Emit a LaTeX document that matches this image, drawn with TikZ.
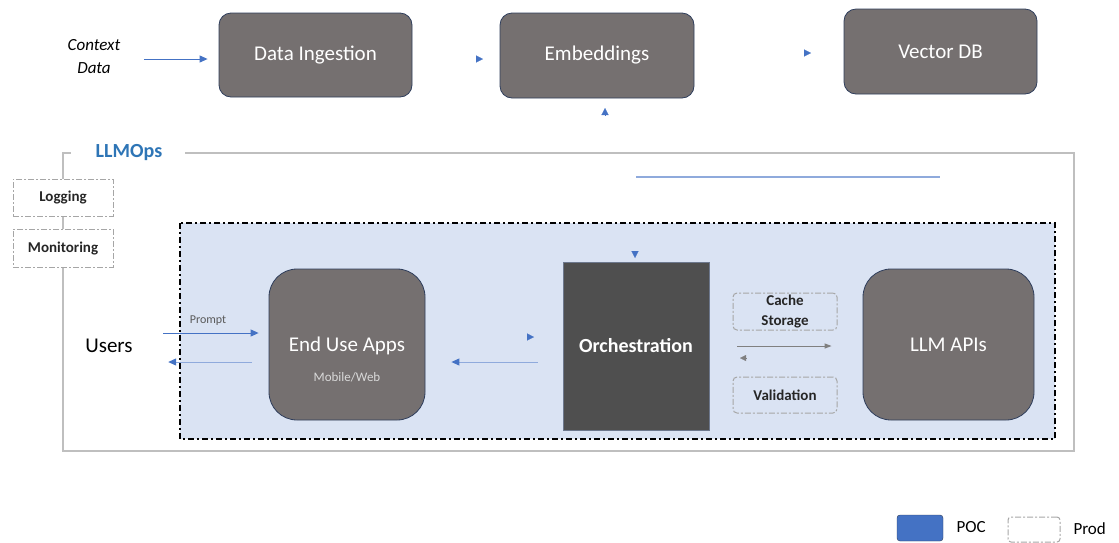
\documentclass[tikz,border=0pt]{standalone}
\usepackage{fontspec}
\setmainfont{Carlito}
\usetikzlibrary{arrows.meta}
\definecolor{boxgray}{RGB}{117,112,112}
\definecolor{orchgray}{RGB}{79,79,79}
\definecolor{boxedge}{RGB}{47,62,92}
\definecolor{myblue}{RGB}{68,114,196}
\definecolor{lineblue}{RGB}{143,170,220}
\definecolor{paleblue}{RGB}{218,227,243}
\definecolor{framegray}{RGB}{191,191,191}
\definecolor{dashgray}{RGB}{166,166,166}
\definecolor{opsblue}{RGB}{46,117,182}

\begin{document}
\begin{tikzpicture}[x=1pt, y=-1pt,
    stage/.style={draw=boxedge, line width=0.8pt, fill=boxgray, rounded corners=12pt,
        inner sep=0pt, text=white, font=\fontsize{21}{25}\selectfont},
    service/.style={stage, rounded corners=28pt},
    prodbox/.style={draw=dashgray, line width=1pt, dash pattern=on 6pt off 2pt on 2pt off 2pt,
        inner sep=0pt, align=center, text=black!85, font=\bfseries\fontsize{15}{21}\selectfont},
    flow/.style={draw=myblue, line width=1pt, -{Triangle[length=8pt, width=7pt, color=myblue]}},
    backflow/.style={flow, draw=lineblue},
    grayflow/.style={draw=gray, line width=1pt, -{Triangle[length=7pt, width=5pt]}},
    bluehead/.style={draw=myblue, fill=myblue, line width=0.1pt, -{Triangle[length=7pt, width=7pt]}},
    grayhead/.style={draw=gray, fill=gray, line width=0.1pt, -{Triangle[length=6pt, width=6pt]}}]
    \useasboundingbox (0,0) rectangle (1119,542);

    % --- Ingestion pipeline (top row)
    \node[align=center, font=\itshape\fontsize{17}{23}\selectfont] (ctx) at (94,57) {Context\\Data};
    \node[stage, minimum width=193pt, minimum height=84pt] (ingest) at (315.5,55) {Data Ingestion};
    \node[stage, minimum width=194pt, minimum height=85pt] (embed) at (597,55.5) {Embeddings};
    \node[stage, minimum width=193pt, minimum height=85pt] (vdb) at (940.5,51.5) {Vector DB};
    \draw[flow, shorten <=20pt, shorten >=11pt] ([yshift=-2pt]ctx.east) -- ([yshift=-2pt]ctx.east -| ingest.west);

    % Loose arrow heads
    \coordinate (h1) at (483,59);
    \coordinate (h2) at (811,53);
    \coordinate (h3) at (605,108);
    \draw[bluehead] ([xshift=-7pt]h1) -- (h1);
    \draw[bluehead] ([xshift=-7pt]h2) -- (h2);
    \draw[bluehead] ([yshift=-7pt]h3) -- (h3);

    % --- LLMOps frame with logging and monitoring
    \node[prodbox, minimum width=100pt, minimum height=37pt] (logb) at (63,197.5) {Logging};
    \node[prodbox, minimum width=100pt, minimum height=38pt] (monb) at (63,248) {Monitoring};
    \node[font=\bfseries\fontsize{20}{24}\selectfont, text=opsblue] (ops) at (129,153) {LLMOps};
    \draw[framegray, line width=1.5pt] (185,153) -- (1074,153) -- (1074,451) -- (63,451) -- (monb.south);
    \draw[framegray, line width=1.5pt] (monb.north) -- (logb.south);
    \draw[framegray, line width=1.5pt] (logb.north) -- (63,153) -- (71,153);
    \draw[lineblue, line width=1.5pt] (636,177) -- (940,177);

    % --- POC area (dash dotted)
    \draw[fill=paleblue, line width=2pt, dash pattern=on 6pt off 3pt on 2pt off 3pt] (180,223) rectangle (1055,439);

    \node[font=\fontsize{21}{25}\selectfont] (users) at (109,346) {Users};
    \node[service, minimum width=156pt, minimum height=151pt] (apps) at (347,344.5) {};
    \node[text=white, font=\fontsize{21}{25}\selectfont] (appsl) at (347,346) {End Use Apps};
    \node[text=black!15, font=\fontsize{13}{15}\selectfont] (appsd) at (347,377) {Mobile/Web};
    \node[draw=boxedge!70, line width=0.8pt, fill=orchgray, minimum width=146pt, minimum height=168pt,
        inner sep=0pt, text=white, font=\bfseries\fontsize{20}{24}\selectfont] (orch) at (636,346) {Orchestration};
    \node[prodbox, rounded corners=4pt, minimum width=104pt, minimum height=37pt] (cache) at (785,311.5) {Cache\\[-1pt]Storage};
    \node[prodbox, rounded corners=4pt, minimum width=104pt, minimum height=36pt] (valid) at (785,395) {Validation};
    \node[service, minimum width=171pt, minimum height=151pt] (llm) at (948.5,344.5) {LLM APIs};

    % Connectors
    \coordinate (pin) at (163,333);
    \coordinate (pout) at (252,362);
    \node[text=black!65, font=\fontsize{12}{14}\selectfont] (prompt) at (208,321) {Prompt};
    \draw[flow, shorten >=10pt] (pin) -- (pin -| apps.west);
    \draw[backflow, shorten >=32pt] (pout) -- (pout -| users.east);
    \draw[backflow, shorten <=25pt, shorten >=26pt] ([yshift=-16pt]orch.west) -- ([yshift=-16pt]orch.west -| apps.east);
    \draw[grayflow, shorten <=28pt, shorten >=31pt] (orch.east) -- (orch.east -| llm.west);

    \coordinate (h4) at (635,258);
    \coordinate (h5) at (534,337);
    \coordinate (h6) at (740,358);
    \draw[bluehead] ([yshift=7pt]h4) -- (h4);
    \draw[bluehead] ([xshift=-7pt]h5) -- (h5);
    \draw[grayhead] ([xshift=6pt]h6) -- (h6);

    % --- Legend
    \node[draw=boxedge, fill=myblue, rounded corners=3pt, minimum width=46pt, minimum height=26pt] (poc) at (920,528) {};
    \node[anchor=west, font=\fontsize{17}{20}\selectfont] (pocl) at (953,527) {POC};
    \node[prodbox, rounded corners=3pt, minimum width=52pt, minimum height=25pt] (prod) at (1034,529.5) {};
    \node[anchor=west, font=\fontsize{17}{20}\selectfont] (prodl) at (1070,529) {Prod};
\end{tikzpicture}
\end{document}
